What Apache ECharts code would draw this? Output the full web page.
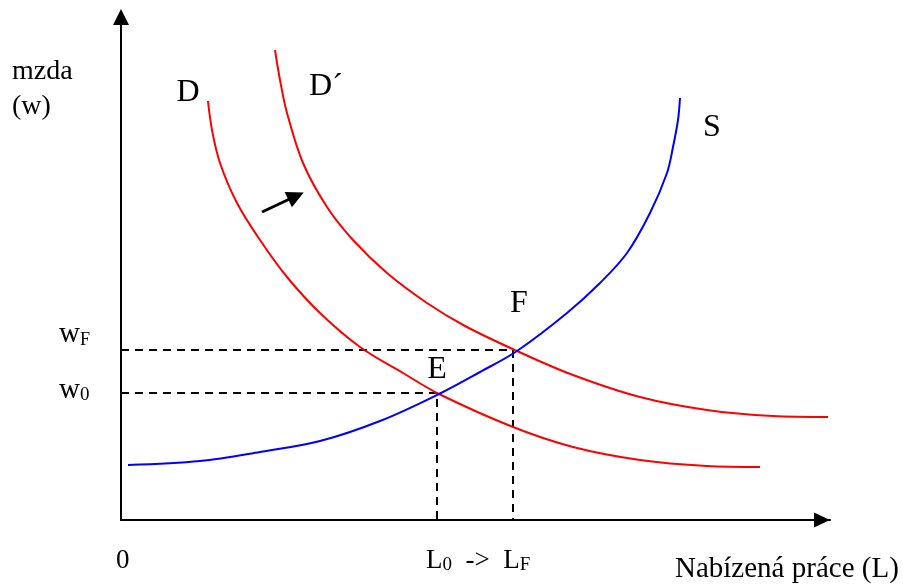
<!DOCTYPE html>
<html>
<head>
<meta charset="utf-8">
<script src="https://cdn.jsdelivr.net/npm/echarts@6/dist/echarts.min.js"></script>
<style>
  html, body { margin: 0; padding: 0; background: #fff; }
  #chart { width: 903px; height: 584px; }
</style>
</head>
<body>
<div id="chart"></div>
<script>
// krivky: x = prace (L), y = mzda (w), v jednotkach grafu
const supplyS = [[7, 55], [79, 59], [139, 68], [199, 79], [259, 99], [318, 126], [359, 148], [396, 169],
  [446, 207], [479, 237], [506, 267], [529, 307], [546, 347], [552, 373], [557, 400], [559, 422]];
const demandD = [[87, 419], [91, 390], [99, 357], [116, 317], [139, 280], [166, 243], [199, 207], [239, 173],
  [282, 147], [318, 126], [392, 93], [452, 73], [519, 60], [586, 54], [639, 53]];
const demandD2 = [[154, 470], [159, 440], [166, 407], [182, 357], [206, 313], [232, 280], [266, 247], [306, 217],
  [344, 194], [396, 169], [452, 145], [519, 123], [586, 110], [652, 104], [707, 103]];

// rovnovazne body E a F (vodici carkovane cary)
const pointE = [316, 127];
const pointF = [392, 170];

// sipka posunu poptavky D -> D´
const shiftArrow = [[141, 308], [175, 324]];

// popisky krivek a bodu
const curveLabels = [
  ['D', 67, 427],
  ['D´', 205, 433],
  ['S', 591, 392],
  ['F', 398, 216],
  ['E', 316, 150]
];

const FONT = '"Liberation Serif", "Times New Roman", serif';

const chart = echarts.init(document.getElementById('chart'));

function dashPath(p) {
  return [[0, p[1]], [p[0], p[1]], [p[0], 0]];
}

function curve(name, data, color) {
  return {
    name: name, type: 'line', data: data, smooth: 0.35,
    showSymbol: false, clip: false, silent: true,
    lineStyle: { color: color, width: 2 }
  };
}

const option = {
  animation: false,
  backgroundColor: '#fff',
  grid: { left: 121, top: 17, width: 709, height: 503 },
  xAxis: {
    type: 'value', min: 0, max: 709,
    axisLine: { show: true, onZero: true, symbol: ['none', 'triangle'], symbolSize: [15, 16],
      symbolOffset: [0, -8], lineStyle: { color: '#000', width: 2 } },
    axisTick: { show: false }, axisLabel: { show: false }, splitLine: { show: false }
  },
  yAxis: {
    type: 'value', min: 0, max: 503,
    axisLine: { show: true, symbol: ['none', 'triangle'], symbolSize: [16, 16],
      lineStyle: { color: '#000', width: 2 } },
    axisTick: { show: false }, axisLabel: { show: false }, splitLine: { show: false }
  },
  series: [
    {
      name: 'wF', type: 'line', data: dashPath(pointF), showSymbol: false, silent: true,
      lineStyle: { color: '#000', width: 2, type: [8, 6] }
    },
    {
      name: 'w0', type: 'line', data: dashPath(pointE), showSymbol: false, silent: true,
      lineStyle: { color: '#000', width: 2, type: [8, 6] }
    },
    curve('D', demandD, '#ff0000'),
    curve('D´', demandD2, '#ff0000'),
    curve('S', supplyS, '#0000ff'),
    {
      type: 'lines', coordinateSystem: 'cartesian2d', silent: true,
      symbol: ['none', 'triangle'], symbolSize: [14, 17],
      lineStyle: { color: '#000', width: 3, opacity: 1, curveness: 0 },
      data: [{ coords: shiftArrow }]
    },
    {
      type: 'scatter', symbolSize: 0, silent: true, clip: false,
      itemStyle: { opacity: 1 },
      data: curveLabels.map(l => ({ value: [l[1], l[2]], name: l[0] })),
      label: {
        show: true, position: 'inside', formatter: p => p.name,
        fontFamily: FONT, fontSize: 32, color: '#000', opacity: 1
      }
    }
  ],
  graphic: [
    { type: 'text', left: 12, top: 58, style: { text: 'mzda', font: '28px ' + FONT, fill: '#000' } },
    { type: 'text', left: 12, top: 93, style: { text: '(w)', font: '28px ' + FONT, fill: '#000' } },
    {
      type: 'text', x: 59, y: 335,
      style: {
        text: '{a|w}{b|F}', verticalAlign: 'middle',
        rich: { a: { fontFamily: FONT, fontSize: 29, lineHeight: 28, verticalAlign: 'bottom', fill: '#000' },
                b: { fontFamily: FONT, fontSize: 18, lineHeight: 24, verticalAlign: 'bottom', fill: '#000' } }
      }
    },
    {
      type: 'text', x: 59, y: 391,
      style: {
        text: '{a|w}{b|0}', verticalAlign: 'middle',
        rich: { a: { fontFamily: FONT, fontSize: 29, lineHeight: 28, verticalAlign: 'bottom', fill: '#000' },
                b: { fontFamily: FONT, fontSize: 19, lineHeight: 24, verticalAlign: 'bottom', fill: '#000' } }
      }
    },
    { type: 'text', x: 116, y: 561, style: { text: '0', font: '27px ' + FONT, fill: '#000', verticalAlign: 'middle' } },
    {
      type: 'text', x: 426, y: 561,
      style: {
        text: '{a|L}{b|0}{a|  ->  L}{b|F}', verticalAlign: 'middle',
        rich: { a: { fontFamily: FONT, fontSize: 27, lineHeight: 27, verticalAlign: 'bottom', fill: '#000' },
                b: { fontFamily: FONT, fontSize: 19, lineHeight: 23, verticalAlign: 'bottom', fill: '#000' } }
      }
    },
    {
      type: 'text', x: 675, y: 569,
      style: { text: 'Nabízená práce (L)', font: '29px ' + FONT, fill: '#000', verticalAlign: 'middle' }
    }
  ]
};

chart.setOption(option);
</script>
</body>
</html>
